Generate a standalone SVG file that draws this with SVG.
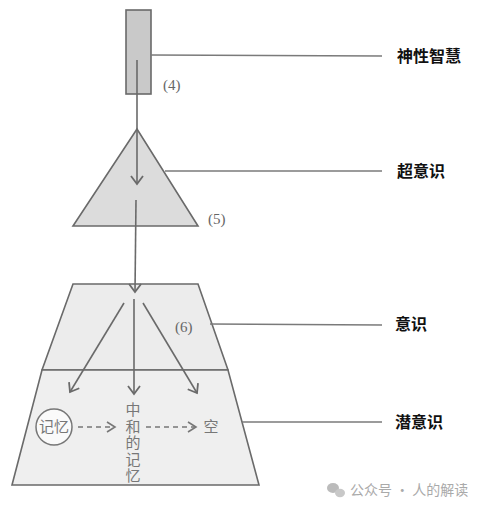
<svg xmlns="http://www.w3.org/2000/svg" width="478" height="509" viewBox="0 0 478 509">
<defs>
<style>
.shape{stroke:#6a6a6a;stroke-width:1.6}
.lead{stroke:#7a7a7a;stroke-width:1.5;fill:none}
.arr{stroke:#6a6a6a;stroke-width:1.6;fill:none}
.dash{stroke:#777;stroke-width:1.5;fill:none;stroke-dasharray:5 4}
.lbl{font-family:"Noto Sans CJK SC",sans-serif;font-size:16px;font-weight:700;fill:#111}
.num{font-family:"Liberation Serif",serif;font-size:15px;fill:#666}
.inner{font-family:"Noto Sans CJK SC",sans-serif;font-size:15px;fill:#777}
.wm{font-family:"Noto Sans CJK SC",sans-serif;font-size:14px;fill:#aaa}
</style>
<marker id="ah" markerWidth="14" markerHeight="14" refX="10" refY="7" orient="auto" markerUnits="userSpaceOnUse">
<path d="M2,1 L10,7 L2,13" fill="none" stroke="#6a6a6a" stroke-width="1.8"/>
</marker>
<marker id="ahd" markerWidth="14" markerHeight="14" refX="10" refY="7" orient="auto" markerUnits="userSpaceOnUse">
<path d="M2,2 L10,7 L2,12" fill="none" stroke="#777" stroke-width="1.6"/>
</marker>
</defs>
<rect width="478" height="509" fill="#fff"/>
<g id="divine">
<rect class="shape" x="126" y="10" width="25" height="84" fill="#c9c9c9"/>
<text class="num" x="163" y="90">(4)</text>
</g>
<g id="superconscious">
<polygon class="shape" points="137,129 73,226 198,226" fill="#dcdcdc"/>
<text class="num" x="208" y="224">(5)</text>
</g>
<g id="conscious">
<polygon class="shape" points="73,284 198,284 228,370 42,370" fill="#ececec"/>
<text class="num" x="175" y="332">(6)</text>
</g>
<g id="subconscious">
<polygon class="shape" points="42,370 228,370 259,485 12,485" fill="#efefef"/>
<circle cx="54" cy="427" r="18" fill="#fafafa" stroke="#777" stroke-width="1.5"/>
<text class="inner" x="54" y="432" text-anchor="middle">记忆</text>
<text class="inner" x="133" y="402" writing-mode="vertical-rl" letter-spacing="1.5">中和的记忆</text>
<text class="inner" x="211" y="432" text-anchor="middle">空</text>
</g>
<g id="labels">
<text class="lbl" x="397" y="62">神性智慧</text>
<text class="lbl" x="397" y="177">超意识</text>
<text class="lbl" x="395" y="330">意识</text>
<text class="lbl" x="395" y="428">潜意识</text>
</g>
<g id="connectors">
<line class="lead" x1="151" y1="55" x2="382" y2="56"/>
<line class="lead" x1="165" y1="171" x2="382" y2="171"/>
<line class="lead" x1="210" y1="324" x2="382" y2="325"/>
<line class="lead" x1="242" y1="422" x2="382" y2="422"/>
<line class="arr" x1="137" y1="60" x2="137" y2="184" marker-end="url(#ah)"/>
<line class="arr" x1="136" y1="200" x2="135" y2="292" marker-end="url(#ah)"/>
<line class="arr" x1="124" y1="303" x2="70" y2="392" marker-end="url(#ah)"/>
<line class="arr" x1="134" y1="299" x2="134" y2="394" marker-end="url(#ah)"/>
<line class="arr" x1="143" y1="303" x2="197" y2="393" marker-end="url(#ah)"/>
<line class="dash" x1="78" y1="427" x2="115" y2="427" marker-end="url(#ahd)"/>
<line class="dash" x1="146" y1="427" x2="196" y2="427" marker-end="url(#ahd)"/>
</g>
<g id="watermark">
<ellipse cx="333" cy="488" rx="6" ry="5" fill="#bbb"/>
<ellipse cx="340" cy="493" rx="5" ry="4.2" fill="#c8c8c8"/>
<text class="wm" x="350" y="495">公众号 · 人的解读</text>
</g>
</svg>
